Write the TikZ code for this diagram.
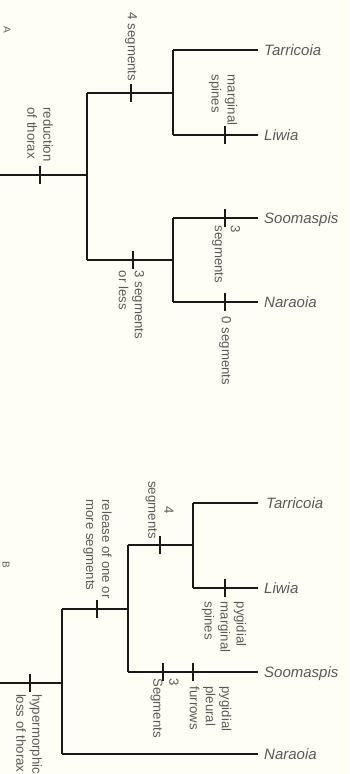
\documentclass[tikz,border=0pt]{standalone}
\usepackage{fontspec}
\setmainfont{Liberation Sans}
\definecolor{bg}{RGB}{255,254,244}
\definecolor{lab}{RGB}{90,90,90}
\begin{document}
\begin{tikzpicture}[x=1pt,y=-1pt,
  br/.style={line width=1.4pt, black!90},
  tk/.style={line width=1.6pt, black!90},
  lbl/.style={rotate=-90, align=left, inner sep=0pt, text=lab, font=\fontsize{13.2}{16}\selectfont},
  lblc/.style={lbl, align=center},
  taxon/.style={anchor=west, inner sep=0pt, text height=10.5pt, text depth=0pt, text=lab, font=\fontsize{15}{17}\selectfont\itshape},
  panel/.style={rotate=-90, inner sep=0pt, text=lab, font=\fontsize{10}{11}\selectfont}]
\fill[bg] (0,0) rectangle (349,774);
\useasboundingbox (0,0) rectangle (349,774);
\newcommand{\tick}[1]{\draw[tk] ([yshift=9pt]#1) -- ([yshift=-9pt]#1);}

% ---------------- A ----------------
\node[panel] (pA) at (7,30) {A};
\coordinate (Aroot) at (0,175);
\coordinate (A1) at (87,175);
\coordinate (A1u) at (87,93);
\coordinate (A1d) at (87,260);
\coordinate (A2) at (173,93);
\coordinate (A2t) at (173,50);
\coordinate (A2b) at (173,135);
\coordinate (A3) at (173,260);
\coordinate (A3t) at (173,218);
\coordinate (A3b) at (173,302);
\node[taxon] (tarA) at (264,50) {Tarricoia};
\node[taxon] (liwA) at (264,135) {Liwia};
\node[taxon] (sooA) at (264,218) {Soomaspis};
\node[taxon] (narA) at (264,302) {Naraoia};

\draw[br] (Aroot) -- (A1);
\draw[br] (A1u) -- (A1d);
\draw[br] (A1u) -- (A2);
\draw[br] (A2t) -- (A2b);
\draw[br, shorten >=6pt] (A2t) -- (tarA.west);
\draw[br, shorten >=6pt] (A2b) -- (liwA.west);
\draw[br] (A1d) -- (A3);
\draw[br] (A3t) -- (A3b);
\draw[br, shorten >=6pt] (A3t) -- (sooA.west);
\draw[br, shorten >=6pt] (A3b) -- (narA.west);

\coordinate (tA0) at (40,175);
\coordinate (tA1) at (131,93);
\coordinate (tA2) at (225,135);
\coordinate (tA3) at (133,260);
\coordinate (tA4) at (225,218);
\coordinate (tA5) at (225,302);
\tick{tA0}\tick{tA1}\tick{tA2}\tick{tA3}\tick{tA4}\tick{tA5}

\node[lbl] (lA0) at (40,134.5) {reduction\\of thorax};
\node[lbl] (lA1) at (131,47) {4 segments};
\node[lbl] (lA2) at (223,100) {marginal\\spines};
\node[lbl] (lA3) at (131.5,305) {3 segments\\or less};
\node[lbl] (lA4) at (226,254.5) {3\\segments};
\node[lbl] (lA5) at (225,351) {0 segments};

% ---------------- B ----------------
\node[panel] (pB) at (6,565) {B};
\coordinate (Broot) at (0,683);
\coordinate (B1) at (62,683);
\coordinate (B1u) at (62,609);
\coordinate (B1d) at (62,754);
\coordinate (B2) at (128,609);
\coordinate (B2u) at (128,545);
\coordinate (B2d) at (128,672);
\coordinate (B3) at (193,545);
\coordinate (B3t) at (193,503);
\coordinate (B3b) at (193,588);
\node[taxon] (tarB) at (266,503) {Tarricoia};
\node[taxon] (liwB) at (264,588) {Liwia};
\node[taxon] (sooB) at (264,672) {Soomaspis};
\node[taxon] (narB) at (264,754) {Naraoia};

\draw[br] (Broot) -- (B1);
\draw[br] (B1u) -- (B1d);
\draw[br] (B1u) -- (B2);
\draw[br, shorten >=6pt] (B1d) -- (narB.west);
\draw[br] (B2u) -- (B2d);
\draw[br] (B2u) -- (B3);
\draw[br] (B3t) -- (B3b);
\draw[br, shorten >=8pt] (B3t) -- (tarB.west);
\draw[br, shorten >=6pt] (B3b) -- (liwB.west);
\draw[br, shorten >=6pt] (B2d) -- (sooB.west);

\coordinate (tB0) at (30,683);
\coordinate (tB1) at (97,609);
\coordinate (tB2) at (160,545);
\coordinate (tB3) at (225,588);
\coordinate (tB4) at (163,672);
\coordinate (tB5) at (193,672);
\tick{tB0}\tick{tB1}\tick{tB2}\tick{tB3}\tick{tB4}\tick{tB5}

\node[lbl] (lB0) at (29,734) {hypermorphic\\loss of thorax};
\node[lbl] (lB1) at (97.5,549) {release of one or\\more segments};
\node[lblc] (lB2) at (159.5,510) {4\\segments};
\node[lbl] (lB3) at (224,627) {pygidial\\marginal\\spines};
\node[lbl] (lB4) at (164.5,708) {3\\Segments};
\node[lbl] (lB5) at (210.5,709) {pygidial\\pleural\\furrows};
\end{tikzpicture}
\end{document}
